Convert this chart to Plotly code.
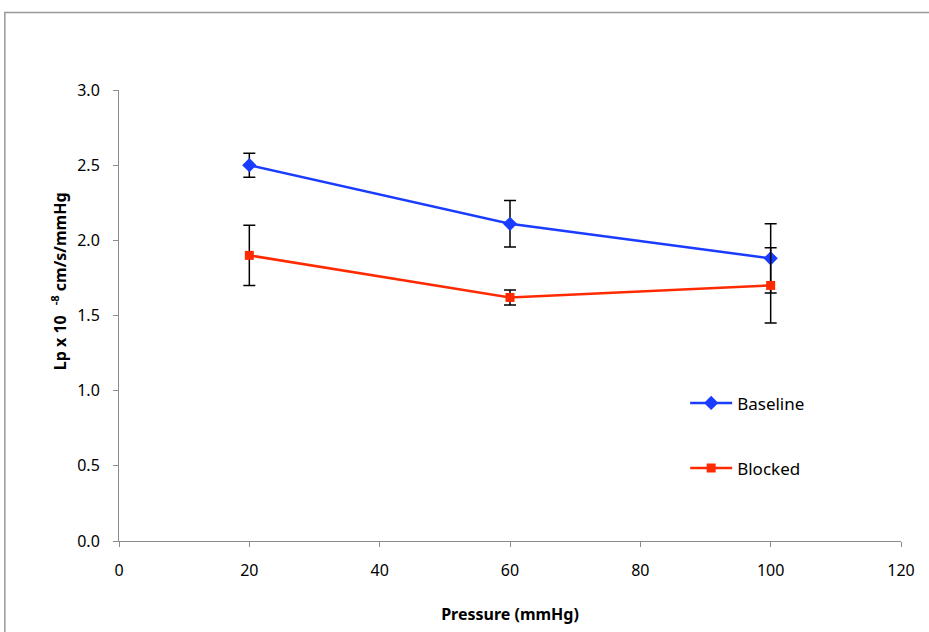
import plotly.graph_objects as go

pressure = [20, 60, 100]
baseline = [2.50, 2.11, 1.88]
baseline_err = [0.08, 0.155, 0.23]
blocked = [1.90, 1.62, 1.70]
blocked_err = [0.20, 0.05, 0.25]
xticks = [0, 20, 40, 60, 80, 100, 120]
yticks = [0.0, 0.5, 1.0, 1.5, 2.0, 2.5, 3.0]

FONT = "Noto Sans"

fig = go.Figure()
fig.add_trace(go.Scatter(
    x=pressure, y=baseline, name="Baseline", mode="lines+markers",
    line=dict(color="#1a3cff", width=2.5),
    marker=dict(symbol="diamond", size=11, color="#1a3cff"),
    error_y=dict(type="data", array=baseline_err, color="black", thickness=1.5, width=6),
    legendgroup="a",
))
fig.add_trace(go.Scatter(
    x=pressure, y=blocked, name="Blocked", mode="lines+markers",
    line=dict(color="#ff2a00", width=2.5),
    marker=dict(symbol="square", size=9, color="#ff2a00"),
    error_y=dict(type="data", array=blocked_err, color="black", thickness=1.5, width=6),
    legendgroup="b",
))

axis_common = dict(showgrid=False, zeroline=False, showline=True, linecolor="#8c8c8c",
                   linewidth=1, ticks="outside", tickcolor="#8c8c8c", ticklen=5,
                   ticklabelstandoff=10,
                   tickfont=dict(family=FONT, size=16, color="black"))

fig.update_xaxes(range=[0, 120], tickvals=xticks, ticktext=[str(v) for v in xticks],
                 title=dict(text="<b>Pressure (mmHg)</b>", font=dict(family=FONT, size=16, color="black"), standoff=28),
                 **axis_common)
fig.update_yaxes(range=[0, 3], tickvals=yticks, ticktext=[f"{v:.1f}" for v in yticks],
                 **axis_common)

fig.add_annotation(text="<b>Lp x 10 <sup>  -8</sup> cm/s/mmHg</b>", xref="paper", yref="paper",
                   x=-0.0946, y=0.576, textangle=-90, showarrow=False,
                   font=dict(family=FONT, size=16, color="black"))

fig.add_shape(type="rect", xref="paper", yref="paper", x0=-0.146, y0=-0.3, x1=1.1, y1=1.172,
              line=dict(color="#999999", width=1.5), fillcolor="rgba(0,0,0,0)", layer="below")

fig.update_layout(
    width=929, height=632,
    margin=dict(l=119, r=28, t=90, b=89),
    plot_bgcolor="white", paper_bgcolor="white",
    showlegend=True,
    legend=dict(x=0.724, y=0.345, xanchor="left", yanchor="top", tracegroupgap=40,
                itemwidth=42,
                font=dict(family=FONT, size=17, color="black"), bgcolor="rgba(0,0,0,0)"),
)

fig.write_html("out.html")
